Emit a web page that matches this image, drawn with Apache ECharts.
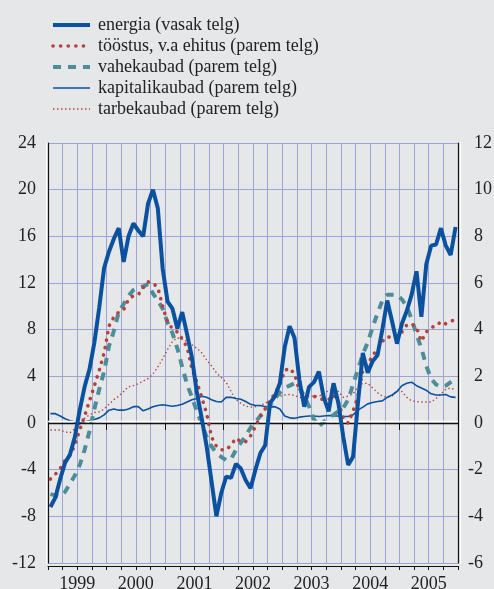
<!DOCTYPE html>
<html>
<head>
<meta charset="utf-8">
<script src="https://cdn.jsdelivr.net/npm/echarts@6/dist/echarts.min.js"></script>
<style>
  html, body { margin: 0; padding: 0; background: #e6e7e9; }
  #chart { width: 494px; height: 589px; }
</style>
</head>
<body>
<div id="chart"></div>
<script>
// monthly values, Jan 1999 - Dec 2005 (one row per year)
const years = ['1999', '2000', '2001', '2002', '2003', '2004', '2005'];

// energia, left axis
const energia = [
  -7.2, -6.4, -4.8, -3.4, -2.7, -1.2, 1.1, 3.1, 4.6, 6.9, 9.9, 13.3,
  14.7, 15.8, 16.7, 13.8, 16.0, 17.1, 16.5, 16.0, 18.8, 20.0, 18.4, 13.2,
  10.4, 9.8, 8.1, 9.5, 7.6, 5.6, 2.6, 0.4, -2.0, -5.0, -8.0, -6.0,
  -4.6, -4.7, -3.5, -3.9, -4.9, -5.6, -4.0, -2.6, -1.9, 1.7, 2.3, 3.4,
  6.5, 8.3, 7.3, 3.7, 1.4, 3.1, 3.5, 4.4, 2.2, 1.0, 3.4, 1.7,
  -1.2, -3.6, -2.9, 1.7, 6.0, 4.3, 5.3, 5.8, 8.0, 10.5, 8.7, 6.8,
  8.5, 9.6, 11.0, 13.0, 9.1, 13.6, 15.2, 15.3, 16.7, 15.2, 14.4, 16.8
];

// right axis series
const toostus = [
  -2.4, -2.2, -1.95, -1.6, -1.4, -0.95, -0.3, 0.3, 0.95, 1.6, 2.25, 3.0,
  4.15, 4.55, 4.75, 4.85, 5.3, 5.45, 5.5, 5.8, 6.05, 6.0, 5.8, 5.0,
  4.3, 4.05, 3.9, 3.6, 3.25, 2.3, 1.75, 1.1, 0.4, -0.6, -1.0, -1.15,
  -1.15, -0.95, -0.65, -0.8, -0.8, -0.55, -0.15, 0.3, 0.6, 1.0, 1.25, 1.65,
  2.25, 2.35, 2.1, 1.4, 1.2, 1.15, 1.15, 1.05, 1.0, 1.0, 1.2, 0.9,
  0.2, 0.0, 0.5, 1.15, 2.25, 2.5, 2.9, 3.15, 3.5, 3.7, 3.65, 3.7,
  3.9, 4.2, 4.25, 4.1, 3.5, 3.9, 4.1, 4.15, 4.35, 4.25, 4.35, 4.45
];

const vahekaubad = [
  -3.05, -3.1, -3.15, -2.95, -2.6, -2.25, -1.8, -1.15, -0.35, 0.6, 1.45, 2.2,
  3.3, 3.95, 4.75, 5.1, 5.45, 5.7, 5.8, 5.85, 5.95, 5.55, 5.25, 4.9,
  4.3, 3.85, 3.2, 2.4, 1.65, 1.1, 0.5, -0.05, -0.6, -1.0, -1.3, -1.45,
  -1.6, -1.55, -1.15, -0.85, -0.55, -0.2, 0.05, 0.3, 0.5, 0.75, 1.05, 1.3,
  1.5, 1.6, 1.7, 1.5, 1.15, 0.7, 0.15, -0.15, 0.05, 0.22, 0.35, 0.5,
  0.65, 1.0, 1.65, 2.3, 2.95, 3.45, 4.1, 4.7, 5.25, 5.5, 5.5, 5.5,
  5.3, 5.0, 4.45, 3.8, 3.2, 2.45, 1.9, 1.65, 1.55, 1.6, 1.75, 1.9
];

const kapitalikaubad = [
  0.4, 0.4, 0.3, 0.18, 0.1, 0.05, 0.03, 0.05, 0.1, 0.15, 0.22, 0.35,
  0.55, 0.6, 0.55, 0.55, 0.6, 0.7, 0.7, 0.52, 0.6, 0.7, 0.75, 0.78,
  0.75, 0.72, 0.75, 0.8, 0.9, 1.0, 1.05, 1.15, 1.1, 1.0, 0.92, 0.9,
  1.1, 1.1, 1.05, 1.02, 0.92, 0.8, 0.75, 0.75, 0.7, 0.68, 0.7, 0.6,
  0.3, 0.22, 0.2, 0.25, 0.28, 0.3, 0.3, 0.28, 0.3, 0.32, 0.3, 0.3,
  0.28, 0.28, 0.35, 0.55, 0.68, 0.82, 0.88, 0.92, 0.95, 1.1, 1.2, 1.35,
  1.6, 1.7, 1.75, 1.6, 1.5, 1.4, 1.25, 1.2, 1.2, 1.22, 1.12, 1.1
];

const tarbekaubad = [
  -0.3, -0.3, -0.3, -0.38, -0.42, -0.25, -0.05, 0.2, 0.35, 0.45, 0.48, 0.6,
  0.8, 1.0, 1.15, 1.35, 1.55, 1.6, 1.68, 1.8, 1.9, 2.1, 2.4, 2.75,
  3.15, 3.5, 3.65, 3.6, 3.5, 3.35, 3.2, 3.0, 2.7, 2.45, 2.15, 1.95,
  1.75, 1.35, 1.0, 0.85, 0.72, 0.68, 0.7, 0.75, 0.85, 0.95, 1.05, 1.15,
  1.2, 1.22, 1.18, 1.1, 1.1, 1.15, 1.15, 1.15, 1.25, 1.4, 1.45, 1.35,
  1.1, 1.15, 1.25, 1.55, 1.7, 1.7, 1.5, 1.3, 1.15, 1.1, 1.15, 1.4,
  1.35, 1.1, 0.95, 0.92, 0.9, 0.9, 0.9, 1.05, 1.25, 1.45, 1.5, 1.4
];

const names = [
  'energia (vasak telg)',
  'tööstus, v.a ehitus (parem telg)',
  'vahekaubad (parem telg)',
  'kapitalikaubad (parem telg)',
  'tarbekaubad (parem telg)'
];

// x = middle of month
const pts = arr => arr.map((v, i) => [i + 0.5, v]);

const FONT = '"Liberation Serif", "DejaVu Serif", serif';
const FS = 18;
const GRID = '#9aa5d6';
const BLUE = '#0a52a0';
const RED = '#b7403a';
const TEAL = '#4d8d9a';

const styles = [
  { color: BLUE, width: 4 },
  { color: RED, width: 3.6, type: [0.1, 7.5], cap: 'round' },
  { color: TEAL, width: 4, type: [8, 7] },
  { color: BLUE, width: 1.6 },
  { color: RED, width: 1.4, type: [1.4, 2.6] }
];
const noSymbol = { color: 'rgba(0,0,0,0)', borderWidth: 0, opacity: 0 };
const legendText = {
  fontFamily: FONT, fontSize: FS, fontWeight: 400, color: '#222', padding: [0, 0, 0, 3],
  rich: { t: { fontFamily: FONT, fontSize: FS, fontWeight: 400, color: '#222' } }
};

const chart = echarts.init(document.getElementById('chart'), null, { renderer: 'canvas' });

chart.setOption({
  backgroundColor: '#e6e7e9',
  animation: false,
  textStyle: { fontFamily: FONT, fontWeight: 'normal' },
  legend: {
    orient: 'vertical',
    left: 46,
    top: 11,
    itemWidth: 37,
    itemHeight: 18,
    itemGap: 3,
    selectedMode: false,
    itemStyle: noSymbol,
    textStyle: legendText,
    formatter: name => '{t|' + name + '}',
    data: names.map((n, k) => ({ name: n, lineStyle: styles[k], itemStyle: noSymbol }))
  },
  grid: { left: 48, right: 36, top: 143, bottom: 26, outerBoundsMode: 'none', containLabel: false },
  xAxis: [
    {
      type: 'value',
      min: 0, max: 84, interval: 3,
      offset: 3,
      axisLine: { show: true, onZero: false, lineStyle: { color: '#111', width: 1 } },
      axisTick: { show: true, inside: false, length: 4, lineStyle: { color: '#111' } },
      axisLabel: { show: false },
      splitLine: { show: true, lineStyle: { color: GRID, width: 1 } }
    },
    {
      type: 'category',
      data: years,
      position: 'bottom',
      offset: 3,
      boundaryGap: true,
      axisLine: { show: false },
      axisTick: { show: true, length: 7, lineStyle: { color: '#111' } },
      axisLabel: { fontFamily: FONT, fontSize: FS, color: '#222', margin: 9 },
      splitLine: { show: false }
    }
  ],
  yAxis: [
    {
      type: 'value',
      min: -12, max: 24, interval: 4,
      axisLine: { show: true, onZero: false,
        lineStyle: { color: '#111', width: 1.2, shadowColor: '#fff', shadowOffsetX: -2, shadowBlur: 0 } },
      axisTick: { show: false },
      axisLabel: { fontFamily: FONT, fontSize: FS, color: '#222', margin: 12 },
      splitLine: { show: true, lineStyle: { color: GRID, width: 1 } }
    },
    {
      type: 'value',
      min: -6, max: 12, interval: 2,
      position: 'right',
      axisLine: { show: true, onZero: false,
        lineStyle: { color: '#111', width: 1.2, shadowColor: '#fff', shadowOffsetX: 2, shadowBlur: 0 } },
      axisTick: { show: false },
      axisLabel: {
        fontFamily: FONT, fontSize: FS, color: '#222', margin: 10,
        // digits line up, the minus sign hangs to the left
        formatter: v => (v < 0 ? '' + v : '{s| }' + v),
        rich: { s: { width: 6, fontSize: FS } }
      },
      splitLine: { show: false }
    }
  ],
  series: [
    {
      name: names[4], type: 'line', yAxisIndex: 1, symbol: 'none', z: 2,
      data: pts(tarbekaubad), lineStyle: styles[4], itemStyle: { color: RED },
      emphasis: { disabled: true }
    },
    {
      name: names[3], type: 'line', yAxisIndex: 1, symbol: 'none', z: 3,
      data: pts(kapitalikaubad), lineStyle: styles[3], itemStyle: { color: BLUE },
      emphasis: { disabled: true }
    },
    {
      name: names[2], type: 'line', yAxisIndex: 1, symbol: 'none', z: 4,
      data: pts(vahekaubad), lineStyle: styles[2], itemStyle: { color: TEAL },
      emphasis: { disabled: true }
    },
    {
      name: names[1], type: 'line', yAxisIndex: 1, symbol: 'none', z: 5,
      data: pts(toostus), lineStyle: styles[1], itemStyle: { color: RED },
      emphasis: { disabled: true }
    },
    {
      name: names[0], type: 'line', yAxisIndex: 0, symbol: 'none', z: 6,
      data: pts(energia), lineStyle: styles[0], itemStyle: { color: BLUE },
      emphasis: { disabled: true },
      markLine: {
        silent: true, symbol: 'none', label: { show: false },
        lineStyle: { color: '#111', width: 1.3, type: 'solid',
          shadowColor: '#fff', shadowOffsetY: -2, shadowBlur: 0 },
        data: [{ yAxis: 0 }]
      }
    }
  ]
});
</script>
</body>
</html>
